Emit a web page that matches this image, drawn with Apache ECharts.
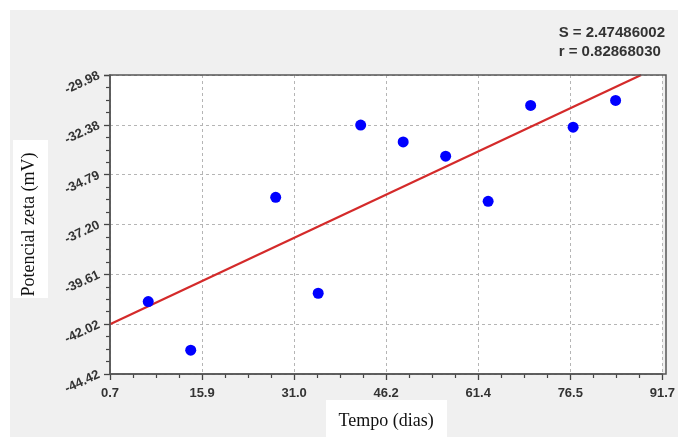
<!DOCTYPE html>
<html>
<head>
<meta charset="utf-8">
<script src="https://cdn.jsdelivr.net/npm/echarts@6/dist/echarts.min.js"></script>
<style>html,body{margin:0;padding:0;background:#fff}#c{width:678px;height:437px}</style>
</head>
<body>
<div id="c"></div>
<script>
const days = [7, 14, 28, 35, 42, 49, 56, 63, 70, 77, 84];
const zeta = [-40.92, -43.27, -35.89, -40.52, -32.40, -33.21, -33.90, -36.08, -31.45, -32.50, -31.21];
const fitX = [0.7, 88.2];
const fitY = [-42.02, -29.98];
const xTickLabels = ['0.7', '15.9', '31.0', '46.2', '61.4', '76.5', '91.7'];
const yTickLabels = ['-44.42', '-42.02', '-39.61', '-37.20', '-34.79', '-32.38', '-29.98'];
const statLines = ['S = 2.47486002', 'r = 0.82868030'];

const xMin = parseFloat(xTickLabels[0]), xMax = parseFloat(xTickLabels[xTickLabels.length - 1]);
const yMin = parseFloat(yTickLabels[0]), yMax = parseFloat(yTickLabels[yTickLabels.length - 1]);

const chart = echarts.init(document.getElementById('c'));
const axisCommon = {
  axisLine: { show: true, lineStyle: { color: '#555', width: 1.5 } },
  axisTick: { show: true, length: 6, lineStyle: { color: '#444', width: 1.3 } },
  minorTick: { show: true, splitNumber: 4, length: 4, lineStyle: { color: '#444', width: 1.2 } },
  splitLine: { show: true, lineStyle: { color: '#b5b5b5', width: 1, type: [3, 3] } }
};
chart.setOption({
  backgroundColor: '#ffffff',
  animation: false,
  graphic: [
    { type: 'rect', z: -10, shape: { x: 10, y: 10, width: 668, height: 427 }, style: { fill: '#f0f0f0' } },
    { type: 'rect', z: -5, shape: { x: 13, y: 140, width: 35, height: 158 }, style: { fill: '#ffffff' } },
    { type: 'rect', z: -5, shape: { x: 326, y: 400, width: 121, height: 37 }, style: { fill: '#ffffff' } },
    { type: 'rect', z: 50, shape: { x: 110, y: 75, width: 556, height: 299 }, style: { fill: 'none', stroke: '#555', lineWidth: 1.5 } },
    { type: 'text', right: 13, top: 23, style: { text: statLines.join('\n'), align: 'right', fill: '#333', font: 'bold 15px "Liberation Sans", Arial, sans-serif', lineHeight: 19 } }
  ],
  grid: { left: 110, right: 12, top: 75, bottom: 63, show: true, backgroundColor: '#ffffff', borderWidth: 0 },
  xAxis: Object.assign({
    type: 'value', min: xMin, max: xMax, interval: (xMax - xMin) / (xTickLabels.length - 1),
    name: 'Tempo (dias)', nameLocation: 'middle', nameGap: 38,
    nameTextStyle: { fontFamily: '"Liberation Serif", "Times New Roman", serif', fontSize: 18, color: '#111' },
    axisLabel: { margin: 13, color: '#333', fontWeight: 'bold', fontSize: 13, fontFamily: '"Liberation Sans", Arial, sans-serif',
      formatter: (v, i) => xTickLabels[i] !== undefined ? xTickLabels[i] : v.toFixed(1) }
  }, axisCommon),
  yAxis: Object.assign({
    type: 'value', min: yMin, max: yMax, interval: (yMax - yMin) / (yTickLabels.length - 1),
    name: 'Potencial zeta (mV)', nameLocation: 'middle', nameGap: 72,
    nameTextStyle: { fontFamily: '"Liberation Serif", "Times New Roman", serif', fontSize: 18, color: '#111' },
    axisLabel: { margin: 11, rotate: 25, color: '#333', fontWeight: 'bold', fontSize: 13, fontFamily: '"Liberation Sans", Arial, sans-serif',
      formatter: (v, i) => yTickLabels[i] !== undefined ? yTickLabels[i] : v.toFixed(2) }
  }, axisCommon),
  series: [
    {
      type: 'line', data: fitX.map((x, i) => [x, fitY[i]]), symbol: 'none',
      lineStyle: { color: '#d42a2a', width: 2.2 }, z: 2
    },
    {
      type: 'scatter', data: days.map((d, i) => [d, zeta[i]]), symbol: 'circle', symbolSize: 11,
      itemStyle: { color: '#0000ff', opacity: 1 }, z: 3
    }
  ]
});
</script>
</body>
</html>
